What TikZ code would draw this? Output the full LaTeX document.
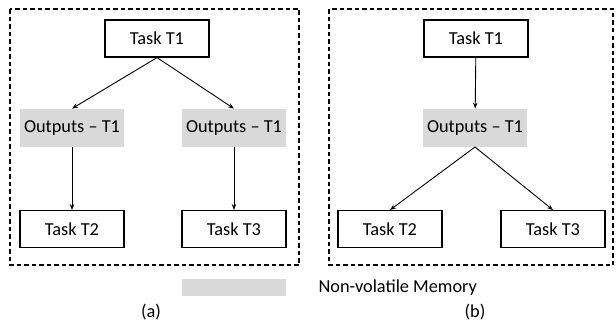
\documentclass[tikz,border=0pt]{standalone}
\usepackage{fontspec}
\setmainfont{Carlito}
\usetikzlibrary{arrows.meta}
\usetikzlibrary{calc,positioning}
\definecolor{nvmgray}{RGB}{217,217,217}

\begin{document}
\begin{tikzpicture}[x=1pt,y=-1pt,>={Stealth[length=6pt,width=4.5pt]},
    font=\fontsize{18.3}{22}\selectfont,
    task/.style={draw,line width=1.2pt,minimum width=104pt,minimum height=37pt,inner sep=0pt},
    outputs/.style={fill=nvmgray,minimum width=104pt,minimum height=38pt,inner sep=0pt},
    link/.style={->,line width=0.9pt},
    frame/.style={draw,line width=1.3pt,dash pattern=on 4.5pt off 3pt}]

    \useasboundingbox (0,0) rectangle (616,324);

    % (a): one copy of the outputs per consumer
    \draw[frame] (10,9) rectangle (299,265);
    \node[task]    (T1-a)                                   at (157,38.5) {Task T1};
    \node[outputs] (out-a-1) [below=51pt of T1-a, xshift=-85pt] {Outputs -- T1};
    \node[outputs] (out-a-2) [below=51pt of T1-a, xshift=77pt]  {Outputs -- T1};
    \node[task]    (T2-a)    [below=63pt of out-a-1]              {Task T2};
    \node[task]    (T3-a)    [below=63pt of out-a-2]              {Task T3};

    \path[link] (T1-a.south) edge (out-a-1.north);
    \path[link] (T1-a.south) edge (out-a-2.north);
    \path[link] (out-a-1) edge (T2-a);
    \path[link] (out-a-2) edge (T3-a);

    % (b): one shared copy of the outputs
    \draw[frame] (329,9) rectangle (613,265);
    \node[task]    (T1-b)                                   at (476,38.5) {Task T1};
    \node[outputs] (out-b)   [below=51pt of T1-b, xshift=-1pt]  {Outputs -- T1};
    \node[task]    (T2-b)    [below=63pt of out-b, xshift=-85pt] {Task T2};
    \node[task]    (T3-b)    [below=63pt of out-b, xshift=78pt]  {Task T3};

    \path[link] (T1-b) edge (out-b);
    \path[link] (out-b.south) edge (T2-b.north);
    \path[link] (out-b.south) edge (T3-b.north);

    % legend and captions
    \node[outputs, minimum height=17pt] (legend) at (234,287.5) {};
    \node[anchor=west] (legend-text) at (315,288) {Non-volatile Memory};
    \node (cap-a) at (151,312) {(a)};
    \node (cap-b) at (475,312) {(b)};

\end{tikzpicture}
\end{document}
